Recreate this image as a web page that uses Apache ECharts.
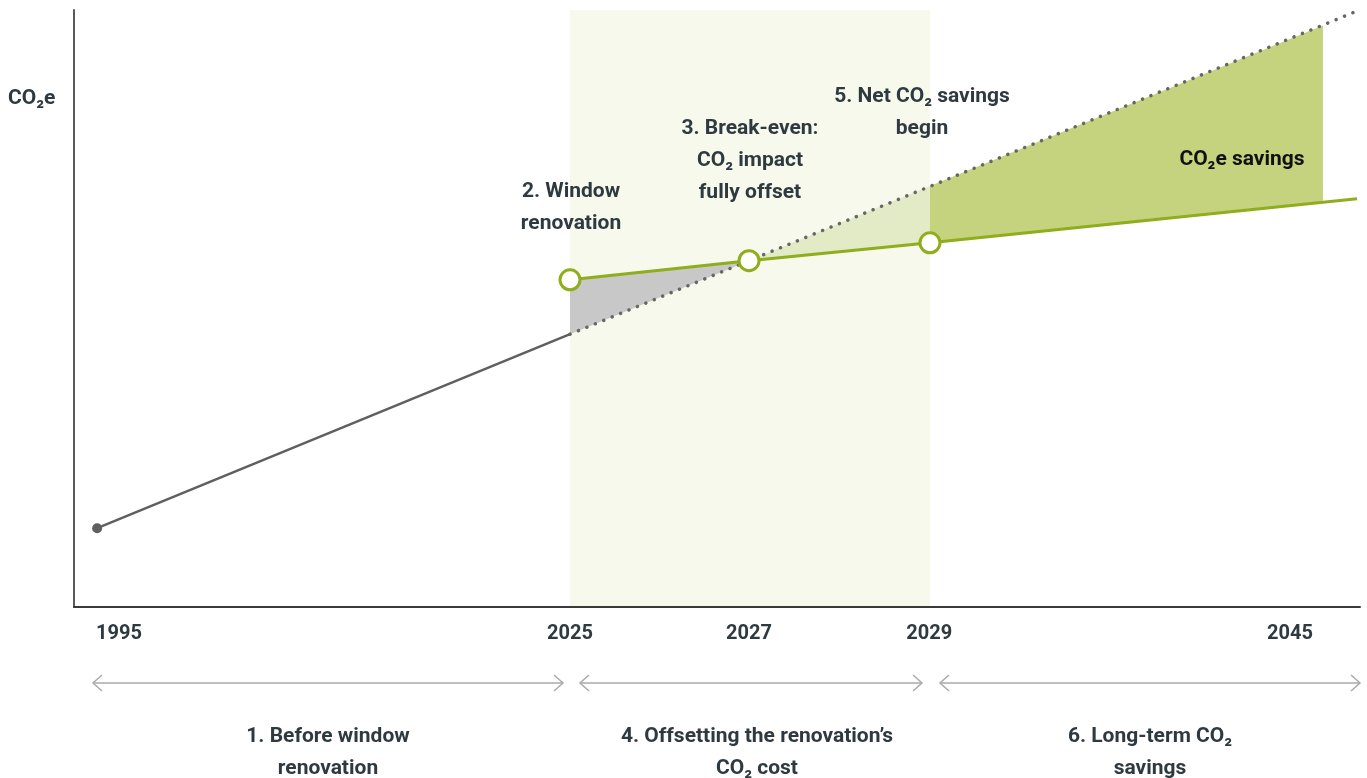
<!DOCTYPE html>
<html>
<head>
<meta charset="utf-8">
<script src="https://cdn.jsdelivr.net/npm/echarts@6/dist/echarts.min.js"></script>
<style>html,body{margin:0;padding:0;background:#fff}#c{width:1367px;height:778px}</style>
</head>
<body>
<div id="c"></div>
<script>
// Schematic timeline positions (axis runs 0..100) and tick labels
const yearLabels = ['1995', '2025', '2027', '2029', '2045'];
const yearLabelPos = [3.5, 38.57, 52.49, 66.5, 94.56];

// Pre-renovation trajectory (solid up to 2025, dotted afterwards)
const baselineX = [1.8, 38.57, 52.49, 66.56, 97.12, 99.85];
const baselineY = [13.2, 45.7, 58.0, 70.5, 97.4, 99.9];

// Trajectory after window renovation
const renovX = [38.57, 52.49, 66.56, 97.12, 99.77];
const renovY = [54.8, 58.0, 61.0, 67.8, 68.4];

// Phase band (offsetting period)
const bandRange = [38.57, 66.56];

const FONT = 'Roboto, "DejaVu Sans", sans-serif';
const TXT = '#2e3a40';
const GREEN = '#8fad1c';

const B = baselineX.map((x, i) => [x, baselineY[i]]);
const R = renovX.map((x, i) => [x, renovY[i]]);

const polygons = [
  { pts: [B[1], R[0], R[1]], color: '#c8c8c8' },
  { pts: [B[2], R[2], B[3]], color: '#e3eac6' },
  { pts: [R[2], R[3], B[4], B[3]], color: '#c5d27e' }
];

const chart = echarts.init(document.getElementById('c'));

function txt(text, x, y, align, color) {
  return {
    type: 'text', z: 100,
    style: {
      text: text, x: x, y: y + 2, textAlign: align || 'center', textVerticalAlign: 'top',
      font: 'bold 21px ' + FONT, lineHeight: 32, fill: color || TXT
    }
  };
}
function arrow(x1, x2, y) {
  const s = { stroke: '#aaaaaa', lineWidth: 1.5, fill: null };
  return [
    { type: 'line', shape: { x1: x1, y1: y, x2: x2, y2: y }, style: s },
    { type: 'polyline', shape: { points: [[x1 + 9, y - 8], [x1, y], [x1 + 9, y + 8]] }, style: s },
    { type: 'polyline', shape: { points: [[x2 - 9, y - 8], [x2, y], [x2 - 9, y + 8]] }, style: s }
  ];
}

const option = {
  backgroundColor: '#ffffff',
  animation: false,
  grid: { left: 74, right: 7, top: 10, bottom: 171 },
  xAxis: {
    type: 'value', min: 0, max: 100,
    axisLine: { show: true, lineStyle: { color: '#3a3a3a', width: 2 } },
    axisTick: { show: false },
    splitLine: { show: false },
    axisLabel: {
      customValues: yearLabelPos,
      formatter: v => { const i = yearLabelPos.findIndex(p => Math.abs(p - v) < 1e-6); return i >= 0 ? yearLabels[i] : ''; },
      margin: 17, fontSize: 20, fontWeight: 'bold', color: TXT, fontFamily: FONT,
      showMinLabel: true, showMaxLabel: true
    }
  },
  yAxis: {
    type: 'value', min: 0, max: 100,
    axisLine: { show: true, lineStyle: { color: '#5a5a5a', width: 2 } },
    axisTick: { show: false }, axisLabel: { show: false }, splitLine: { show: false }
  },
  series: [
    {
      type: 'custom', z: 0, silent: true,
      data: [[bandRange[0], bandRange[1]]],
      renderItem: (params, api) => {
        const p0 = api.coord([api.value(0), 100]);
        const p1 = api.coord([api.value(1), 0]);
        return { type: 'rect', shape: { x: p0[0], y: p0[1], width: p1[0] - p0[0], height: p1[1] - p0[1] }, style: { fill: '#f6f9ec' } };
      }
    },
    {
      type: 'custom', z: 1, silent: true,
      data: polygons.map((p, i) => [i]),
      renderItem: (params, api) => {
        const p = polygons[params.dataIndex];
        return { type: 'polygon', shape: { points: p.pts.map(pt => api.coord(pt)) }, style: { fill: p.color } };
      }
    },
    {
      type: 'line', z: 3, showSymbol: false, silent: true,
      data: B.slice(0, 2),
      lineStyle: { color: '#5f5f5f', width: 2.5 }
    },
    {
      type: 'line', z: 3, showSymbol: false, silent: true,
      data: [B[1], B[B.length - 1]],
      lineStyle: { color: '#666666', width: 3.5, type: [0.1, 9], cap: 'round' }
    },
    {
      type: 'line', z: 4, showSymbol: false, silent: true,
      data: R,
      lineStyle: { color: GREEN, width: 3 }
    },
    {
      type: 'scatter', z: 5, silent: true,
      data: R.slice(0, 3),
      symbol: 'circle', symbolSize: 20,
      itemStyle: { color: '#ffffff', borderColor: GREEN, borderWidth: 3, opacity: 1 }
    },
    {
      type: 'scatter', z: 5, silent: true,
      data: [B[0]],
      symbol: 'circle', symbolSize: 10,
      itemStyle: { color: '#5f5f5f', opacity: 1 }
    }
  ],
  graphic: [
    txt('CO₂e', 8, 81, 'left'),
    txt('2. Window\nrenovation', 571, 174),
    txt('3. Break-even:\nCO₂ impact\nfully offset', 750, 111),
    txt('5. Net CO₂ savings\nbegin', 922, 79),
    txt('CO₂e savings', 1242, 142, 'center', '#111111'),
    txt('1. Before window\nrenovation', 328, 719),
    txt('4. Offsetting the renovation’s\nCO₂ cost', 757, 719),
    txt('6. Long-term CO₂\nsavings', 1150, 719),
    ...arrow(93, 563, 683),
    ...arrow(580, 922, 683),
    ...arrow(940, 1360, 683)
  ]
};
chart.setOption(option);
</script>
</body>
</html>
